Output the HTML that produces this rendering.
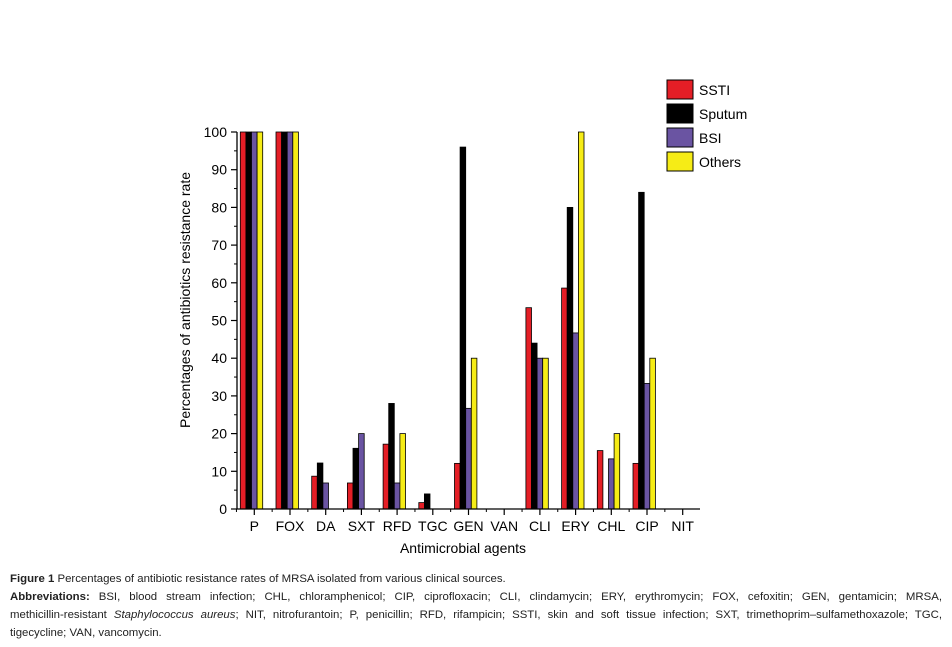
<!DOCTYPE html>
<html><head><meta charset="utf-8"><style>
body{margin:0;background:#fff;width:952px;height:647px;overflow:hidden;position:relative;font-family:"Liberation Sans",sans-serif}
#cap{position:absolute;left:10px;top:570px;width:932px;font-size:11.4px;line-height:18px;color:#222}
#cap div{white-space:nowrap;height:18px}
#cap div.j{text-align:justify;text-align-last:justify;white-space:normal;overflow:hidden}
</style></head><body>
<svg id="chart" width="952" height="565" style="position:absolute;left:0;top:0" font-family="Liberation Sans, sans-serif"></svg>
<div id="cap">
<div><b>Figure 1</b> Percentages of antibiotic resistance rates of MRSA isolated from various clinical sources.</div>
<div class="j"><b>Abbreviations:</b> BSI, blood stream infection; CHL, chloramphenicol; CIP, ciprofloxacin; CLI, clindamycin; ERY, erythromycin; FOX, cefoxitin; GEN, gentamicin; MRSA,</div>
<div class="j">methicillin-resistant <i>Staphylococcus aureus</i>; NIT, nitrofurantoin; P, penicillin; RFD, rifampicin; SSTI, skin and soft tissue infection; SXT, trimethoprim–sulfamethoxazole; TGC,</div>
<div>tigecycline; VAN, vancomycin.</div>
</div>
<script>
const categories=["P","FOX","DA","SXT","RFD","TGC","GEN","VAN","CLI","ERY","CHL","CIP","NIT"];
const seriesNames=["SSTI","Sputum","BSI","Others"];
const ssti=[100,100,8.7,6.9,17.2,1.7,12.1,0,53.4,58.6,15.5,12.1,0];
const sputum=[100,100,12.2,16.1,28,4,96,0,44,80,0,84,0];
const bsi=[100,100,6.9,20,6.9,0,26.7,0,40,46.7,13.3,33.3,0];
const others=[100,100,0,0,20,0,40,0,40,100,20,40,0];
const yTicks=[0,10,20,30,40,50,60,70,80,90,100];
const colors=["#e41e26","#000000","#6a54a2","#f6ec16"];
const S=[ssti,sputum,bsi,others];
const svg=document.getElementById('chart');
const NS='http://www.w3.org/2000/svg';
const x0=237,x1=700,yb=509,yt=132,step=35.7,first=254.3;
const y=v=>yb-(v/100)*(yb-yt);
const xc=i=>first+i*step;
function mk(t,a,p){const e=document.createElementNS(NS,t);for(const k in a)e.setAttribute(k,a[k]);(p||svg).appendChild(e);return e;}
const bw=5.6;
S.forEach((arr,s)=>{arr.forEach((v,i)=>{if(v<=0)return;
const r=mk('rect',{x:xc(i)-2.8-2*bw+s*bw,y:y(v),width:bw,height:yb-y(v),fill:colors[s],stroke:'#000','stroke-width':0.8});

});});
let ax=mk('line',{x1:x0,y1:yt,x2:x0,y2:yb,stroke:'#000','stroke-width':1.3});

let bx=mk('line',{x1:x0,y1:yb,x2:x1,y2:yb,stroke:'#000','stroke-width':1.3});

yTicks.forEach(t=>{mk('line',{x1:x0-6,y1:y(t),x2:x0,y2:y(t),stroke:'#000','stroke-width':1.2});
if(t<100)mk('line',{x1:x0-3,y1:y(t+5),x2:x0,y2:y(t+5),stroke:'#000','stroke-width':1});
const l=mk('text',{x:x0-10,y:y(t)+5,'text-anchor':'end','font-size':14});l.textContent=t;
});
categories.forEach((c,i)=>{mk('line',{x1:xc(i),y1:yb,x2:xc(i),y2:yb+6,stroke:'#000','stroke-width':1.2});
mk('line',{x1:xc(i)-step/2,y1:yb,x2:xc(i)-step/2,y2:yb+3,stroke:'#000','stroke-width':1});
const l=mk('text',{x:xc(i),y:yb+22,'text-anchor':'middle','font-size':14});l.textContent=c;
});
let yt1=mk('text',{x:0,y:0,'text-anchor':'middle','font-size':14,transform:'translate(190,300) rotate(-90)'});
yt1.textContent='Percentages of antibiotics resistance rate';

let xt=mk('text',{x:463,y:553,'text-anchor':'middle','font-size':14});xt.textContent='Antimicrobial agents';

seriesNames.forEach((n,s)=>{const g=mk('g',{});

mk('rect',{x:667,y:80+s*24,width:26,height:19,fill:colors[s],stroke:'#000','stroke-width':1},g);
const t=mk('text',{x:699,y:95+s*24,'font-size':14},g);t.textContent=n;});
</script>
</body></html>
